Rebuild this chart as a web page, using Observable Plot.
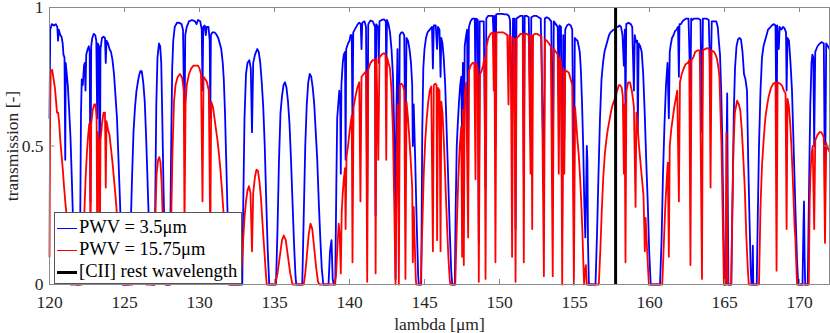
<!DOCTYPE html>
<html>
<head>
<meta charset="utf-8">
<script src="https://cdn.jsdelivr.net/npm/d3@7"></script>
<script src="https://cdn.jsdelivr.net/npm/@observablehq/plot@0.6"></script>
<style>
  html, body { margin: 0; padding: 0; background: #fff; }
  #wrap { position: relative; width: 830px; height: 333px; }
  #chart svg { overflow: visible; }
  #legend {
    position: absolute; left: 54px; top: 212px; width: 188px; height: 72px;
    box-sizing: border-box; background: #fff; border: 1px solid #555;
    font-family: "Liberation Serif", "Times New Roman", serif; font-size: 18.5px; color: #000;
  }
  .row { position: absolute; left: 2px; height: 22px; line-height: 22px; white-space: nowrap; }
  .sw { display: inline-block; width: 20px; vertical-align: middle; margin-right: 2px; }
</style>
</head>
<body>
<div id="wrap"><div id="chart"></div><div id="legend"></div></div>
<script>
// ---- data ----
const xTicks = [120, 125, 130, 135, 140, 145, 150, 155, 160, 165, 170];
const yTicks = [0, 0.5, 1];
const seriesNames = ["PWV = 3.5\u03bcm", "PWV = 15.75\u03bcm", "[CII] rest wavelength"];
const ciiRest = [157.74];

// [lambda (um), transmission]
const pwv35 = [
[120.00,0.60],[120.05,0.92],[120.15,0.94],[120.30,0.935],[120.42,0.94],[120.52,0.93],[120.57,0.88],[120.62,0.92],[120.72,0.90],[120.80,0.895],[120.88,0.87],[120.93,0.83],[121.00,0.82],[121.05,0.45],[121.08,0.80],[121.15,0.76],[121.22,0.72],[121.30,0.64],[121.40,0.53],[121.50,0.36],[121.60,0.17],[121.70,0.03],[121.75,0.0],
[122.00,0.0],[122.05,0.25],[122.10,0.62],[122.15,0.74],[122.22,0.72],[122.30,0.79],[122.35,0.80],[122.40,0.70],[122.45,0.83],[122.55,0.85],[122.62,0.86],[122.68,0.84],[122.73,0.30],[122.78,0.86],[122.85,0.89],[122.95,0.905],[123.05,0.90],[123.12,0.88],[123.18,0.60],[123.22,0.87],[123.30,0.86],[123.35,0.20],[123.40,0.85],[123.50,0.89],[123.60,0.895],[123.70,0.89],[123.75,0.80],[123.80,0.88],[123.90,0.87],[124.00,0.85],[124.10,0.84],[124.20,0.81],[124.30,0.76],[124.40,0.68],[124.50,0.60],[124.60,0.45],[124.70,0.30],[124.80,0.12],[124.90,0.0],
[125.30,0.0],[125.40,0.18],[125.50,0.38],[125.60,0.55],[125.70,0.64],[125.80,0.70],[125.95,0.75],[126.05,0.77],[126.15,0.77],[126.25,0.73],[126.35,0.66],[126.45,0.52],[126.55,0.35],[126.65,0.18],[126.75,0.03],[126.80,0.0],
[127.00,0.0],[127.05,0.30],[127.12,0.65],[127.20,0.82],[127.30,0.87],[127.38,0.86],[127.45,0.80],[127.52,0.60],[127.60,0.35],[127.70,0.10],[127.78,0.0],
[128.02,0.0],[128.10,0.45],[128.18,0.78],[128.25,0.88],[128.35,0.93],[128.50,0.945],[128.65,0.945],[128.80,0.94],[128.90,0.92],[129.00,0.55],[129.05,0.90],[129.15,0.93],[129.30,0.95],[129.50,0.955],[129.70,0.95],[129.80,0.94],[129.90,0.955],[130.05,0.95],[130.15,0.92],[130.20,0.70],[130.25,0.93],[130.35,0.935],[130.42,0.90],[130.48,0.93],[130.60,0.93],[130.68,0.88],[130.72,0.60],[130.76,0.90],[130.85,0.91],[131.00,0.91],[131.10,0.905],[131.25,0.89],[131.35,0.87],[131.45,0.85],[131.55,0.80],[131.62,0.74],[131.70,0.62],[131.78,0.45],[131.86,0.28],[131.95,0.12],[132.05,0.0],
[132.85,0.0],[132.92,0.30],[133.00,0.60],[133.10,0.76],[133.20,0.80],[133.32,0.81],[133.42,0.78],[133.50,0.55],[133.58,0.80],[133.70,0.83],[133.85,0.85],[133.95,0.84],[134.05,0.80],[134.15,0.73],[134.25,0.64],[134.35,0.50],[134.45,0.30],[134.55,0.12],[134.65,0.0],
[135.10,0.0],[135.20,0.20],[135.30,0.45],[135.40,0.62],[135.50,0.68],[135.60,0.72],[135.70,0.73],[135.80,0.71],[135.90,0.66],[136.00,0.58],[136.10,0.45],[136.20,0.30],[136.30,0.15],[136.40,0.03],[136.45,0.0],
[136.85,0.0],[136.95,0.25],[137.05,0.50],[137.15,0.65],[137.25,0.73],[137.35,0.76],[137.45,0.75],[137.55,0.71],[137.65,0.65],[137.75,0.55],[137.85,0.45],[137.95,0.30],[138.05,0.17],[138.15,0.06],[138.25,0.0],
[138.60,0.0],[138.70,0.12],[138.80,0.16],[138.88,0.02],[138.95,0.0],
[139.05,0.0],[139.12,0.35],[139.18,0.60],[139.25,0.65],[139.32,0.70],[139.38,0.66],[139.42,0.40],[139.46,0.72],[139.55,0.80],[139.62,0.83],[139.70,0.84],[139.74,0.45],[139.78,0.85],[139.90,0.87],[140.00,0.88],[140.07,0.90],[140.15,0.90],[140.20,0.55],[140.25,0.91],[140.35,0.92],[140.45,0.93],[140.55,0.94],[140.65,0.945],[140.75,0.94],[140.80,0.85],[140.85,0.945],[141.00,0.95],[141.10,0.93],[141.18,0.30],[141.25,0.94],[141.40,0.953],[141.55,0.95],[141.70,0.93],[141.74,0.25],[141.78,0.94],[141.90,0.93],[141.95,0.80],[142.00,0.95],[142.15,0.955],[142.30,0.957],[142.42,0.95],[142.45,0.75],[142.50,0.955],[142.60,0.94],[142.70,0.91],[142.80,0.85],[142.90,0.75],[143.00,0.50],[143.07,0.02],[143.12,0.60],[143.20,0.85],[143.29,0.30],[143.35,0.90],[143.45,0.91],[143.55,0.91],[143.65,0.90],[143.73,0.45],[143.80,0.89],[143.90,0.88],[144.00,0.85],[144.10,0.80],[144.18,0.72],[144.22,0.50],[144.28,0.65],[144.38,0.45],[144.48,0.22],[144.58,0.03],[144.62,0.0],
[144.78,0.0],[144.85,0.55],[144.92,0.78],[145.00,0.85],[145.10,0.89],[145.20,0.91],[145.35,0.92],[145.50,0.93],[145.56,0.78],[145.62,0.935],[145.75,0.935],[145.84,0.85],[145.90,0.93],[146.00,0.92],[146.07,0.75],[146.12,0.89],[146.20,0.87],[146.28,0.82],[146.38,0.72],[146.48,0.55],[146.58,0.38],[146.68,0.20],[146.78,0.05],[146.85,0.0],
[147.02,0.0],[147.08,0.28],[147.15,0.50],[147.22,0.58],[147.30,0.66],[147.38,0.72],[147.45,0.75],[147.51,0.50],[147.56,0.80],[147.62,0.45],[147.68,0.86],[147.75,0.89],[147.84,0.92],[147.91,0.40],[147.96,0.93],[148.07,0.95],[148.20,0.96],[148.35,0.96],[148.40,0.70],[148.45,0.96],[148.55,0.955],[148.62,0.15],[148.68,0.95],[148.80,0.95],[148.95,0.95],[149.07,0.35],[149.12,0.96],[149.25,0.97],[149.40,0.97],[149.55,0.97],[149.62,0.88],[149.66,0.97],[149.73,0.50],[149.78,0.975],[149.90,0.977],[150.05,0.977],[150.20,0.977],[150.35,0.975],[150.50,0.975],[150.62,0.97],[150.70,0.955],[150.84,0.57],[150.90,0.96],[151.00,0.96],[151.07,0.20],[151.13,0.96],[151.25,0.965],[151.40,0.97],[151.55,0.97],[151.62,0.40],[151.68,0.97],[151.80,0.97],[151.95,0.965],[152.07,0.53],[152.12,0.965],[152.30,0.97],[152.45,0.97],[152.60,0.965],[152.75,0.96],[152.96,0.35],[153.02,0.96],[153.15,0.965],[153.30,0.96],[153.45,0.95],[153.55,0.38],[153.62,0.95],[153.75,0.94],[153.88,0.93],[153.95,0.66],[154.00,0.935],[154.10,0.93],[154.18,0.20],[154.25,0.90],[154.32,0.52],[154.38,0.92],[154.50,0.935],[154.62,0.94],[154.75,0.935],[154.85,0.92],[154.96,0.25],[155.02,0.89],[155.10,0.885],[155.20,0.88],[155.28,0.86],[155.35,0.84],[155.42,0.78],[155.50,0.66],[155.58,0.50],[155.65,0.30],[155.72,0.17],[155.76,0.28],[155.82,0.50],[155.86,0.45],[155.90,0.15],[155.96,0.0],
[156.40,0.0],[156.50,0.18],[156.60,0.40],[156.70,0.60],[156.80,0.74],[156.90,0.80],[157.00,0.84],[157.10,0.86],[157.20,0.88],[157.30,0.90],[157.40,0.91],[157.50,0.915],[157.60,0.92],[157.70,0.92],[157.80,0.93],[157.90,0.93],[158.00,0.935],[158.10,0.93],[158.20,0.90],[158.29,0.79],[158.35,0.92],[158.40,0.60],[158.45,0.94],[158.60,0.945],[158.75,0.94],[158.85,0.93],[158.96,0.70],[159.02,0.90],[159.10,0.875],[159.18,0.88],[159.22,0.55],[159.28,0.87],[159.38,0.86],[159.48,0.84],[159.58,0.76],[159.68,0.62],[159.78,0.45],[159.88,0.30],[159.98,0.12],[160.08,0.0],
[160.70,0.0],[160.80,0.15],[160.90,0.40],[161.00,0.58],[161.10,0.72],[161.20,0.80],[161.29,0.60],[161.35,0.84],[161.40,0.86],[161.50,0.89],[161.60,0.90],[161.70,0.915],[161.80,0.92],[161.90,0.93],[161.96,0.75],[162.00,0.94],[162.10,0.94],[162.20,0.95],[162.30,0.955],[162.45,0.96],[162.60,0.96],[162.73,0.70],[162.78,0.96],[162.85,0.955],[162.95,0.96],[163.10,0.96],[163.25,0.96],[163.40,0.955],[163.50,0.55],[163.56,0.96],[163.65,0.96],[163.80,0.96],[163.95,0.955],[164.07,0.70],[164.15,0.95],[164.30,0.95],[164.45,0.95],[164.55,0.93],[164.62,0.88],[164.70,0.83],[164.78,0.70],[164.85,0.53],[164.92,0.25],[165.00,0.0],
[165.10,0.0],[165.15,0.55],[165.18,0.69],[165.22,0.30],[165.26,0.0],
[165.45,0.0],[165.55,0.35],[165.62,0.62],[165.70,0.78],[165.80,0.86],[165.90,0.885],[166.00,0.89],[166.10,0.885],[166.20,0.84],[166.30,0.76],[166.40,0.74],[166.50,0.70],[166.58,0.45],[166.66,0.25],[166.75,0.05],[166.80,0.0],
[166.86,0.0],[166.89,0.14],[166.92,0.0],
[167.15,0.0],[167.22,0.25],[167.30,0.50],[167.40,0.70],[167.50,0.82],[167.60,0.86],[167.70,0.88],[167.80,0.90],[167.90,0.92],[168.00,0.925],[168.15,0.935],[168.30,0.94],[168.40,0.935],[168.47,0.50],[168.52,0.935],[168.62,0.85],[168.68,0.93],[168.80,0.92],[168.90,0.93],[169.00,0.925],[169.10,0.91],[169.14,0.70],[169.20,0.89],[169.30,0.88],[169.40,0.80],[169.50,0.70],[169.58,0.55],[169.66,0.40],[169.74,0.25],[169.84,0.08],[169.92,0.0],
[170.20,0.0],[170.26,0.20],[170.30,0.30],[170.34,0.10],[170.38,0.0],
[170.55,0.0],[170.65,0.40],[170.72,0.65],[170.80,0.80],[170.86,0.83],[170.92,0.82],[170.98,0.50],[171.05,0.84],[171.20,0.86],[171.35,0.87],[171.50,0.875],[171.62,0.87],[171.70,0.30],[171.78,0.87],[171.90,0.86],[172.00,0.85]
];

const pwv1575 = [
[120.00,0.10],[120.04,0.60],[120.08,0.77],[120.18,0.775],[120.28,0.74],[120.36,0.71],[120.44,0.66],[120.50,0.62],[120.58,0.62],[120.65,0.58],[120.72,0.52],[120.80,0.47],[120.88,0.42],[120.96,0.36],[121.05,0.30],[121.12,0.26],[121.20,0.20],[121.28,0.14],[121.36,0.05],[121.42,0.0],
[121.70,0.0],[121.75,0.02],[121.80,0.0],
[122.15,0.0],[122.22,0.12],[122.30,0.22],[122.35,0.30],[122.42,0.40],[122.50,0.48],[122.58,0.54],[122.65,0.58],[122.70,0.55],[122.73,0.05],[122.78,0.58],[122.88,0.63],[122.98,0.65],[123.07,0.65],[123.14,0.60],[123.18,0.15],[123.22,0.55],[123.30,0.50],[123.35,0.05],[123.40,0.52],[123.50,0.58],[123.60,0.62],[123.70,0.62],[123.75,0.35],[123.80,0.59],[123.90,0.56],[124.00,0.54],[124.10,0.49],[124.20,0.44],[124.30,0.38],[124.40,0.32],[124.50,0.25],[124.60,0.17],[124.70,0.09],[124.80,0.02],[124.85,0.0],
[125.55,0.0],[125.75,0.03],[125.95,0.05],[126.15,0.05],[126.35,0.02],[126.45,0.0],
[127.00,0.0],[127.06,0.25],[127.14,0.40],[127.24,0.45],[127.32,0.46],[127.40,0.44],[127.48,0.36],[127.56,0.22],[127.64,0.10],[127.72,0.0],
[128.05,0.0],[128.12,0.25],[128.20,0.48],[128.30,0.66],[128.40,0.72],[128.55,0.75],[128.70,0.76],[128.85,0.745],[128.95,0.70],[129.00,0.20],[129.07,0.65],[129.15,0.72],[129.30,0.76],[129.45,0.78],[129.60,0.79],[129.75,0.79],[129.90,0.79],[130.00,0.78],[130.10,0.76],[130.20,0.30],[130.27,0.75],[130.40,0.74],[130.50,0.73],[130.62,0.70],[130.72,0.15],[130.78,0.66],[130.90,0.64],[131.00,0.60],[131.10,0.56],[131.20,0.52],[131.30,0.47],[131.40,0.41],[131.50,0.34],[131.60,0.26],[131.70,0.17],[131.80,0.08],[131.90,0.01],[131.95,0.0],
[132.70,0.0],[132.80,0.06],[132.90,0.15],[133.00,0.24],[133.10,0.30],[133.20,0.34],[133.30,0.355],[133.40,0.33],[133.50,0.12],[133.58,0.33],[133.70,0.39],[133.80,0.415],[133.90,0.41],[134.00,0.37],[134.10,0.31],[134.20,0.22],[134.30,0.14],[134.40,0.06],[134.48,0.0],
[135.05,0.0],[135.20,0.04],[135.35,0.10],[135.50,0.16],[135.62,0.177],[135.75,0.16],[135.90,0.10],[136.05,0.04],[136.20,0.0],
[136.95,0.0],[137.05,0.04],[137.15,0.10],[137.28,0.18],[137.40,0.22],[137.52,0.20],[137.65,0.13],[137.78,0.06],[137.90,0.01],[138.00,0.0],
[139.00,0.0],[139.10,0.03],[139.20,0.14],[139.28,0.22],[139.35,0.18],[139.42,0.04],[139.48,0.26],[139.55,0.33],[139.62,0.38],[139.70,0.42],[139.74,0.20],[139.80,0.46],[139.90,0.50],[140.00,0.55],[140.07,0.58],[140.15,0.61],[140.20,0.08],[140.27,0.64],[140.40,0.68],[140.52,0.71],[140.65,0.73],[140.73,0.30],[140.80,0.75],[140.95,0.76],[141.10,0.77],[141.18,0.01],[141.25,0.775],[141.40,0.80],[141.55,0.81],[141.70,0.81],[141.74,0.04],[141.80,0.815],[141.92,0.45],[142.00,0.82],[142.15,0.83],[142.30,0.835],[142.40,0.83],[142.45,0.45],[142.50,0.82],[142.60,0.80],[142.70,0.78],[142.80,0.70],[142.90,0.55],[142.98,0.30],[143.07,0.0],[143.15,0.45],[143.22,0.65],[143.29,0.0],[143.36,0.72],[143.45,0.725],[143.55,0.72],[143.65,0.70],[143.73,0.02],[143.80,0.66],[143.90,0.60],[144.00,0.52],[144.10,0.43],[144.18,0.35],[144.22,0.08],[144.28,0.28],[144.35,0.15],[144.42,0.02],[144.45,0.0],
[144.75,0.0],[144.85,0.20],[144.95,0.40],[145.05,0.52],[145.15,0.60],[145.25,0.66],[145.35,0.70],[145.45,0.715],[145.56,0.12],[145.62,0.72],[145.72,0.725],[145.80,0.72],[145.84,0.16],[145.90,0.71],[146.00,0.70],[146.07,0.12],[146.12,0.66],[146.20,0.62],[146.28,0.53],[146.36,0.42],[146.44,0.30],[146.52,0.19],[146.60,0.09],[146.68,0.02],[146.72,0.0],
[147.05,0.0],[147.15,0.20],[147.25,0.38],[147.35,0.50],[147.45,0.57],[147.51,0.10],[147.56,0.63],[147.62,0.07],[147.68,0.69],[147.78,0.73],[147.91,0.17],[147.96,0.77],[148.07,0.79],[148.20,0.80],[148.32,0.80],[148.40,0.38],[148.45,0.80],[148.55,0.78],[148.62,0.01],[148.70,0.76],[148.80,0.77],[148.90,0.79],[149.00,0.82],[149.07,0.02],[149.14,0.86],[149.25,0.89],[149.40,0.905],[149.55,0.91],[149.62,0.70],[149.66,0.91],[149.73,0.08],[149.80,0.91],[149.95,0.91],[150.10,0.91],[150.25,0.91],[150.40,0.905],[150.52,0.90],[150.60,0.65],[150.66,0.90],[150.75,0.895],[150.84,0.10],[150.92,0.89],[151.00,0.885],[151.07,0.01],[151.14,0.89],[151.25,0.895],[151.40,0.905],[151.55,0.905],[151.62,0.08],[151.68,0.905],[151.80,0.905],[151.95,0.90],[152.07,0.40],[152.12,0.90],[152.18,0.20],[152.24,0.90],[152.35,0.905],[152.50,0.905],[152.65,0.90],[152.80,0.895],[152.96,0.03],[153.03,0.885],[153.15,0.88],[153.30,0.87],[153.42,0.86],[153.55,0.03],[153.62,0.85],[153.75,0.84],[153.88,0.83],[153.95,0.40],[154.02,0.82],[154.10,0.80],[154.18,0.0],[154.26,0.78],[154.32,0.40],[154.38,0.77],[154.50,0.77],[154.62,0.765],[154.75,0.74],[154.85,0.72],[154.96,0.0],[155.04,0.64],[155.12,0.58],[155.20,0.52],[155.28,0.47],[155.36,0.40],[155.44,0.31],[155.52,0.20],[155.60,0.06],[155.64,0.0],[155.70,0.05],[155.76,0.07],[155.82,0.0],
[156.62,0.0],[156.72,0.12],[156.82,0.27],[156.92,0.39],[157.02,0.47],[157.12,0.52],[157.22,0.56],[157.32,0.59],[157.42,0.62],[157.52,0.645],[157.62,0.66],[157.74,0.68],[157.85,0.70],[157.96,0.72],[158.05,0.72],[158.15,0.71],[158.22,0.68],[158.29,0.40],[158.34,0.65],[158.40,0.08],[158.46,0.70],[158.58,0.73],[158.70,0.73],[158.82,0.70],[158.92,0.66],[158.96,0.64],[159.07,0.28],[159.13,0.62],[159.22,0.56],[159.30,0.50],[159.40,0.44],[159.50,0.38],[159.60,0.32],[159.69,0.12],[159.74,0.24],[159.82,0.15],[159.90,0.06],[159.96,0.0],
[160.85,0.0],[160.95,0.14],[161.05,0.28],[161.15,0.38],[161.22,0.44],[161.29,0.10],[161.35,0.50],[161.45,0.56],[161.55,0.60],[161.65,0.64],[161.75,0.67],[161.85,0.70],[161.96,0.30],[162.03,0.73],[162.15,0.76],[162.28,0.78],[162.40,0.795],[162.55,0.80],[162.65,0.81],[162.73,0.07],[162.80,0.81],[162.92,0.82],[163.05,0.84],[163.20,0.845],[163.35,0.845],[163.50,0.02],[163.56,0.845],[163.70,0.85],[163.85,0.853],[164.00,0.85],[164.07,0.35],[164.14,0.845],[164.30,0.84],[164.40,0.83],[164.50,0.815],[164.60,0.78],[164.66,0.75],[164.72,0.64],[164.80,0.50],[164.88,0.25],[164.96,0.0],
[165.08,0.0],[165.13,0.55],[165.18,0.30],[165.22,0.0],
[165.45,0.0],[165.52,0.28],[165.60,0.50],[165.69,0.62],[165.84,0.664],[165.95,0.65],[166.05,0.63],[166.15,0.56],[166.25,0.46],[166.35,0.35],[166.45,0.18],[166.55,0.06],[166.62,0.0],
[167.30,0.0],[167.40,0.28],[167.50,0.43],[167.62,0.53],[167.72,0.60],[167.84,0.646],[167.95,0.68],[168.10,0.71],[168.25,0.725],[168.40,0.73],[168.47,0.05],[168.54,0.73],[168.70,0.725],[168.84,0.718],[168.96,0.70],[169.07,0.69],[169.14,0.20],[169.20,0.67],[169.29,0.646],[169.38,0.58],[169.46,0.50],[169.54,0.40],[169.62,0.285],[169.68,0.20],[169.72,0.17],[169.78,0.08],[169.84,0.0],
[170.62,0.0],[170.68,0.30],[170.73,0.40],[170.80,0.47],[170.88,0.50],[170.98,0.20],[171.05,0.52],[171.20,0.54],[171.35,0.55],[171.45,0.55],[171.55,0.54],[171.62,0.53],[171.70,0.15],[171.78,0.51],[171.90,0.49],[172.00,0.48]
];

const colors = ["#0000ff", "#ff0000", "#000000"];

// ---- chart ----
const axisGrey = "#8a8a8a";
const chart = Plot.plot({
  width: 830,
  height: 333,
  marginLeft: 49,
  marginRight: 1,
  marginTop: 7,
  marginBottom: 49,
  x: {domain: [120, 172]},
  y: {domain: [0, 1]},
  style: {fontFamily: "'Liberation Serif', 'Times New Roman', serif", fontSize: "17.5px", background: "#fff", color: "#262626", overflow: "visible"},
  marks: [
    Plot.line(pwv35, {x: d => d[0], y: d => d[1], stroke: colors[0], strokeWidth: 1.8}),
    Plot.line(pwv1575, {x: d => d[0], y: d => d[1], stroke: colors[1], strokeWidth: 1.8}),
    Plot.ruleX(ciiRest, {stroke: colors[2], strokeWidth: 3}),
    Plot.frame({stroke: axisGrey}),
    Plot.ruleX(xTicks, {x: d => d, y1: 0, y2: 0.018, stroke: axisGrey}),
    Plot.ruleX(xTicks, {x: d => d, y1: 0.982, y2: 1, stroke: axisGrey}),
    Plot.ruleY(yTicks, {y: d => d, x1: 120, x2: 120.35, stroke: axisGrey}),
    Plot.ruleY(yTicks, {y: d => d, x1: 171.65, x2: 172, stroke: axisGrey}),
    Plot.axisX(xTicks, {tickSize: 0, tickPadding: 11, label: "lambda [\u03bcm]", labelAnchor: "center", labelArrow: "none", labelOffset: 45}),
    Plot.axisY(yTicks, {tickSize: 0, tickPadding: 6, tickFormat: d => String(d), label: "transmission [-]", labelAnchor: "center", labelArrow: "none", labelOffset: 44})
  ]
});
document.getElementById("chart").appendChild(chart);

// ---- legend ----
const legend = document.getElementById("legend");
seriesNames.forEach((name, i) => {
  const row = document.createElement("div");
  row.className = "row";
  row.style.top = (3 + 22 * i) + "px";
  const sw = document.createElement("span");
  sw.className = "sw";
  sw.style.borderTop = (i === 2 ? 3 : 1.8) + "px solid " + colors[i];
  row.appendChild(sw);
  row.appendChild(document.createTextNode(name));
  legend.appendChild(row);
});
</script>
</body>
</html>
